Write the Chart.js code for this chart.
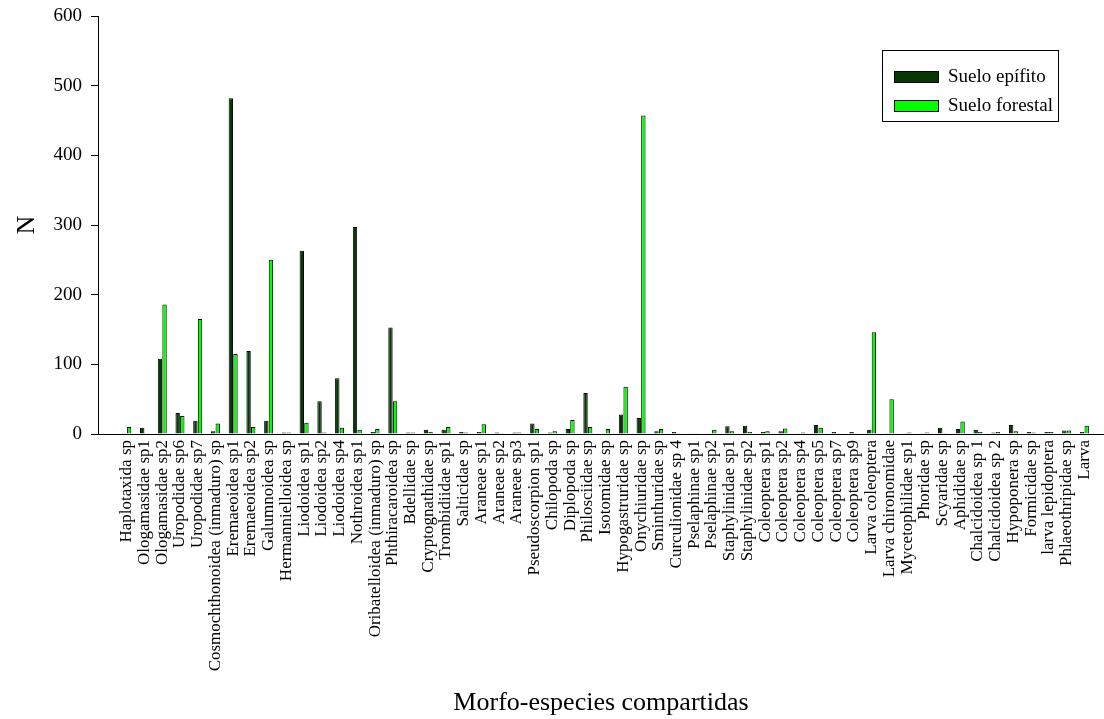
<!DOCTYPE html>
<html>
<head>
<meta charset="utf-8">
<script src="https://cdn.jsdelivr.net/npm/chart.js@4.4.1/dist/chart.umd.min.js"></script>
<style>
  html, body { margin: 0; padding: 0; background: #ffffff; }
  #wrap { width: 1104px; height: 719px; }
</style>
</head>
<body>
<div id="wrap"><canvas id="chart" width="1104" height="719"></canvas></div>
<script>
// Shared morpho-species and their abundance in each soil type
const categories = [
  'Haplotaxida sp', 'Ologamasidae sp1', 'Ologamasidae sp2', 'Uropodidae sp6', 'Uropodidae sp7',
  'Cosmochthonoidea (inmaduro) sp', 'Eremaeoidea sp1', 'Eremaeoidea sp2', 'Galumnoidea sp',
  'Hermannielloidea sp', 'Liodoidea sp1', 'Liodoidea sp2', 'Liodoidea sp4', 'Nothroidea sp1',
  'Oribatelloidea (inmaduro) sp', 'Phthiracaroidea sp', 'Bdellidae sp', 'Cryptognathidae sp',
  'Trombidiidae sp1', 'Salticidae sp', 'Araneae sp1', 'Araneae sp2', 'Araneae sp3',
  'Pseudoscorpion sp1', 'Chilopoda sp', 'Diplopoda sp', 'Philosciidae sp', 'Isotomidae sp',
  'Hypogastruridae sp', 'Onychiuridae sp', 'Sminthuridae sp', 'Curculionidae sp 4',
  'Pselaphinae sp1', 'Pselaphinae sp2', 'Staphylinidae sp1', 'Staphylinidae sp2',
  'Coleoptera sp1', 'Coleoptera sp2', 'Coleoptera sp4', 'Coleoptera sp5', 'Coleoptera sp7',
  'Coleoptera sp9', 'Larva coleoptera', 'Larva chironomidae', 'Mycetophilidae sp1',
  'Phoridae sp', 'Scyaridae sp', 'Aphididae sp', 'Chalcidoidea sp 1', 'Chalcidoidea sp 2',
  'Hypoponera sp', 'Formicidae sp', 'larva lepidoptera', 'Phlaeothripidae sp', 'Larva'
];

const sueloEpifito = [
  1, 9, 108, 30, 19, 4, 482, 119, 19, 2, 263, 47, 80, 297, 3, 153, 2, 6, 6, 3,
  3, 2, 2, 15, 2, 7, 59, 1, 28, 23, 4, 3, 1, 1, 11, 12, 3, 4, 1, 13,
  3, 3, 6, 1, 1, 1, 9, 7, 6, 2, 13, 3, 3, 5, 3
];

const sueloForestal = [
  10, 1, 186, 26, 165, 15, 115, 10, 250, 2, 16, 2, 9, 6, 7, 47, 2, 3, 10, 2,
  14, 1, 2, 7, 4, 20, 10, 7, 68, 457, 7, 1, 1, 6, 4, 3, 4, 8, 2, 9,
  1, 1, 146, 50, 2, 2, 1, 18, 3, 3, 4, 2, 3, 5, 12
];

const seriesNames = ['Suelo epífito', 'Suelo forestal'];
const seriesColors = ['#053805', '#00ff00'];
const yTickValues = [0, 100, 200, 300, 400, 500, 600];

const serif = '"Liberation Serif", "Times New Roman", serif';

// Framed legend in the upper right of the plot
const boxLegend = {
  id: 'boxLegend',
  afterDraw(chart) {
    const ctx = chart.ctx;
    const x0 = 882, y0 = 50, w = 176, h = 71;
    ctx.save();
    ctx.fillStyle = '#ffffff';
    ctx.fillRect(x0, y0, w, h);
    ctx.strokeStyle = '#000000';
    ctx.lineWidth = 1;
    ctx.strokeRect(x0 + 0.5, y0 + 0.5, w, h);
    chart.data.datasets.forEach((ds, i) => {
      const sy = 71 + i * 29;
      ctx.fillStyle = ds.backgroundColor;
      ctx.fillRect(894.5, sy + 0.5, 44, 11);
      ctx.strokeStyle = '#000000';
      ctx.strokeRect(894.5, sy + 0.5, 44, 11);
      ctx.fillStyle = '#000000';
      ctx.font = '19px ' + serif;
      ctx.textBaseline = 'middle';
      ctx.textAlign = 'left';
      ctx.fillText(ds.label, 948, sy + 6);
    });
    ctx.restore();
  }
};

const toPoints = arr => arr.map((v, i) => ({ x: i, y: v }));

const barStyle = {
  borderColor: '#000000',
  borderWidth: 1,
  categoryPercentage: 0.52,
  barPercentage: 0.95
};

new Chart(document.getElementById('chart'), {
  type: 'bar',
  data: {
    datasets: [
      Object.assign({ label: seriesNames[0], data: toPoints(sueloEpifito), backgroundColor: seriesColors[0] }, barStyle),
      Object.assign({ label: seriesNames[1], data: toPoints(sueloForestal), backgroundColor: seriesColors[1] }, barStyle)
    ]
  },
  options: {
    responsive: false,
    animation: false,
    devicePixelRatio: 1,
    layout: { padding: { top: 16, right: 0, left: 0, bottom: 0 } },
    plugins: {
      legend: { display: false },
      tooltip: { enabled: false }
    },
    scales: {
      x: {
        type: 'linear',
        bounds: 'data',
        min: -1.107,
        max: 54.59,
        afterBuildTicks: s => { s.ticks = categories.map((_, i) => ({ value: i })); },
        afterFit: s => { s.height = 285; s.paddingLeft = 0; s.paddingRight = 0; },
        ticks: {
          autoSkip: false,
          minRotation: 90,
          maxRotation: 90,
          padding: 6,
          color: '#000000',
          font: { family: serif, size: 17 },
          callback: v => categories[v] !== undefined ? categories[v] : ''
        },
        grid: { display: true, drawOnChartArea: false, drawTicks: false },
        border: { display: true, color: '#000000', width: 1 },
        title: {
          display: true,
          text: 'Morfo-especies compartidas',
          color: '#000000',
          font: { family: serif, size: 26 },
          padding: { top: 4, bottom: 0 }
        }
      },
      y: {
        min: 0,
        max: 600,
        afterBuildTicks: s => { s.ticks = yTickValues.map(v => ({ value: v })); },
        afterFit: s => { s.width = 98; s.paddingTop = 0; },
        ticks: {
          padding: 9,
          color: '#000000',
          font: { family: serif, size: 19 }
        },
        grid: {
          display: true,
          drawOnChartArea: false,
          drawTicks: true,
          tickLength: 7,
          color: '#000000'
        },
        border: { display: true, color: '#000000', width: 1 },
        title: {
          display: true,
          text: 'N',
          color: '#000000',
          font: { family: serif, size: 26 },
          padding: { top: 12 }
        }
      }
    }
  },
  plugins: [boxLegend]
});
</script>
</body>
</html>
